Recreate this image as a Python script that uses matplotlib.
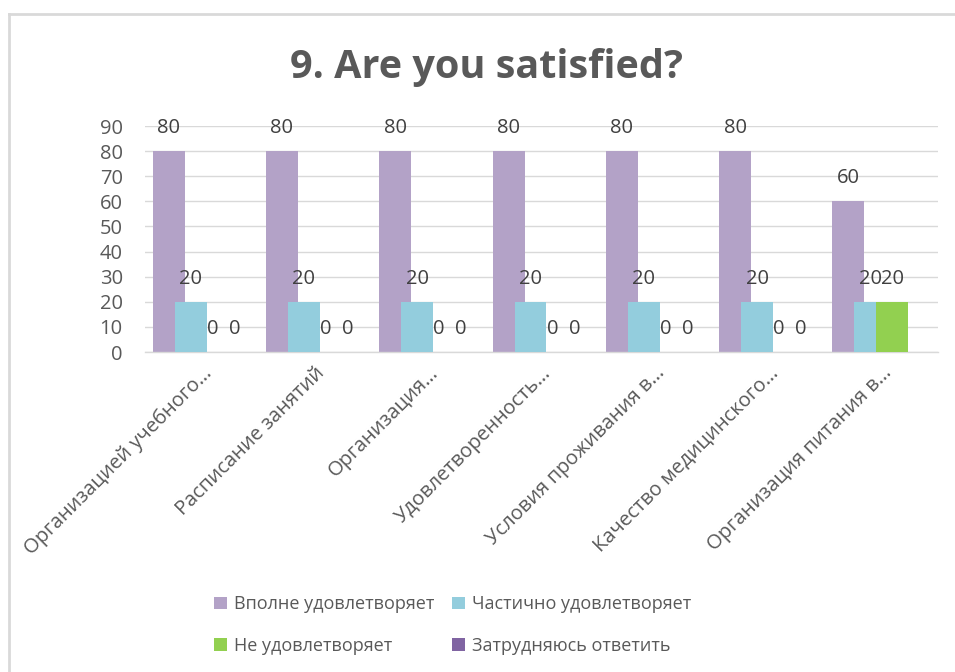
import matplotlib
matplotlib.use('Agg')

import matplotlib.pyplot as plt
import numpy as np
from matplotlib.patches import Patch
from matplotlib.lines import Line2D

plt.rcParams['font.family'] = ['Open Sans', 'DejaVu Sans']

# Данные
categories = [
    "Организацией учебного…",
    "Расписание занятий",
    "Организация…",
    "Удовлетворенность…",
    "Условия проживания в…",
    "Качество медицинского…",
    "Организация питания в…",
]
series_names = [
    "Вполне удовлетворяет",
    "Частично удовлетворяет",
    "Не удовлетворяет",
    "Затрудняюсь ответить",
]
vpolne = [80, 80, 80, 80, 80, 80, 60]
chastichno = [20, 20, 20, 20, 20, 20, 20]
ne_udovl = [0, 0, 0, 0, 0, 0, 20]
zatrud = [0, 0, 0, 0, 0, 0, np.nan]
y_ticks = list(range(0, 100, 10))

colors = ['#B3A2C7', '#93CDDD', '#92D050', '#8064A2']
text_col = '#595959'
label_col = '#404040'

fig = plt.figure(figsize=(9.55, 6.72), dpi=100)
ax = fig.add_axes([145 / 955, 320 / 672, 793 / 955, 226 / 672])

x = np.arange(len(categories))
width = 0.282
step = 0.194
all_series = [vpolne, chastichno, ne_udovl, zatrud]

for i, vals in enumerate(all_series):
    ax.bar(x + (i - 1.5) * step, vals, width=width, color=colors[i], zorder=2 + i)

# подписи значений
for i, vals in enumerate(all_series):
    for j, v in enumerate(vals):
        if np.isnan(v):
            continue
        ax.annotate(f"{int(v)}", (x[j] + (i - 1.5) * step, v), xytext=(0, 13),
                    textcoords='offset points', ha='center', va='baseline',
                    fontsize=14.5, color=label_col, zorder=10)

ax.set_xlim(-0.5, len(categories) - 0.5)
ax.set_ylim(0, 90)
ax.set_yticks(y_ticks)
ax.yaxis.grid(True, color='#D9D9D9', linewidth=1, zorder=0)
ax.set_axisbelow(True)
for s in ['top', 'right', 'left']:
    ax.spines[s].set_visible(False)
ax.spines['bottom'].set_color('#D9D9D9')
ax.spines['bottom'].set_linewidth(1)
ax.tick_params(axis='both', length=0, labelsize=14.5, labelcolor=text_col)
ax.tick_params(axis='y', pad=16)
ax.set_xticks(x)
ax.set_xticklabels(categories, rotation=45, ha='right', va='top',
                   rotation_mode='anchor')
ax.tick_params(axis='x', pad=8)

fig.text(0.509, 0.9, "9. Are you satisfied?", ha='center', va='center',
         fontsize=28.5, fontweight='bold', color=text_col)

handles = [Patch(facecolor=c, edgecolor='none') for c in colors]
order = [0, 2, 1, 3]
fig.legend([handles[k] for k in order], [series_names[k] for k in order],
           loc='center', bbox_to_anchor=(0.474, 1 - 625 / 672), ncol=2,
           frameon=False, fontsize=13, labelcolor=text_col,
           handlelength=0.7, handleheight=0.7, handletextpad=0.4,
           columnspacing=1.0, labelspacing=1.3)

# рамка диаграммы
fig.add_artist(Line2D([9 / 955, 9 / 955], [0, 1 - 14 / 672], color='#D9D9D9', linewidth=2))
fig.add_artist(Line2D([9 / 955, 1], [1 - 14 / 672, 1 - 14 / 672], color='#D9D9D9', linewidth=2))

fig.savefig("out.png", dpi=100)
plt.close(fig)
